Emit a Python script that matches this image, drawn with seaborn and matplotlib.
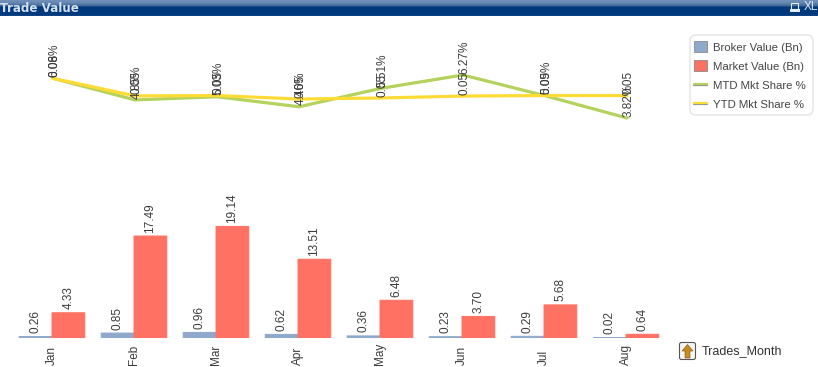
import matplotlib
matplotlib.use('Agg')
import matplotlib.pyplot as plt
import matplotlib.patheffects as pe
from matplotlib.lines import Line2D
from matplotlib.patches import Patch, Rectangle, FancyBboxPatch, Polygon
import numpy as np
import pandas as pd
import seaborn as sns

#values
months = ['Jan', 'Feb', 'Mar', 'Apr', 'May', 'Jun', 'Jul', 'Aug']
broker_value = [0.26, 0.85, 0.96, 0.62, 0.36, 0.23, 0.29, 0.02]
market_value = [4.33, 17.49, 19.14, 13.51, 6.48, 3.70, 5.68, 0.64]
mtd_share = [6.08, 4.85, 5.03, 4.46, 5.51, 6.27, 5.09, 3.82]
ytd_share = [0.0608, 0.0508, 0.0510, 0.0490, 0.0496, 0.0507, 0.0510, 0.0510]

BROKER = '#8fa9cc'
MARKET = '#ff7163'
MTD = '#b4d25c'
YTD = '#ffdc35'
TEXT = '#3c3c3c'

W, H = 818, 367

sns.set_style('white')
plt.rcParams['font.family'] = ['Liberation Sans', 'DejaVu Sans']

fig = plt.figure(figsize=(W / 100, H / 100), dpi=100)

#turns pixel box from the reference into figure coords
def box(left, top, right, bottom):
    return [left / W, 1 - bottom / H, (right - left) / W, (bottom - top) / H]

#bars
bars = pd.DataFrame({
    'Trades_Month': months * 2,
    'Value': broker_value + market_value,
    'Series': ['Broker Value (Bn)'] * 8 + ['Market Value (Bn)'] * 8,
})
ax = fig.add_axes(box(11, 190, 667, 338))
sns.barplot(data=bars, x='Trades_Month', y='Value', hue='Series', ax=ax,
            palette=[BROKER, MARKET], width=0.80, gap=0, saturation=1, legend=False,
            edgecolor=None, linewidth=0)
#thin bars vanish otherwise
for c, col in zip(ax.containers, [BROKER, MARKET]):
    for b in c:
        b.set_edgecolor(col)
        b.set_linewidth(0.7)
        b.set_snap(False)
    ax.bar_label(c, fmt='%.2f', rotation=90, padding=2.5, fontsize=8.5, color=TEXT)
ax.set_xlim(-0.5, 7.5)
ax.set_ylim(0, 148 / 5.83)
ax.set_xlabel('')
ax.set_ylabel('')
ax.set_yticks([])
ax.tick_params(axis='x', length=0, pad=19.5, labelsize=8.5, labelcolor=TEXT, labelrotation=90)
for t in ax.get_xticklabels():
    t.set_verticalalignment('bottom')
sns.despine(ax=ax, left=True, bottom=True)
ax.patch.set_alpha(0)

#lines, YTD is stored as a fraction so it goes on the same scale x100
lx = fig.add_axes(box(12, 30, 668, 130))
sns.lineplot(x=months, y=mtd_share, sort=False, color=MTD, lw=2.3, ax=lx)
sns.lineplot(x=months, y=[v * 100 for v in ytd_share], sort=False, color=YTD, lw=2.3, ax=lx)
for i in range(len(months)):
    lx.annotate(f'{mtd_share[i]:.2f}%', (i, mtd_share[i]), xytext=(1, 1), textcoords='offset points',
                rotation=90, ha='center', va='bottom', fontsize=8.5, color=TEXT)
    lx.annotate(f'{ytd_share[i]:.2f}', (i, ytd_share[i] * 100), xytext=(1, 1), textcoords='offset points',
                rotation=90, ha='center', va='bottom', fontsize=8.5, color=TEXT)
lx.set_xlim(-0.5, 7.5)
lx.set_ylim(3.136, 8.834)
lx.set_xticks([])
lx.set_yticks([])
lx.axis('off')

#overlay in reference pixels, for header and the small bits around the chart
over = fig.add_axes([0, 0, 1, 1], zorder=-1)
over.axis('off')
top_over = fig.add_axes([0, 0, 1, 1], zorder=5)
top_over.set_xlim(0, W)
top_over.set_ylim(H, 0)
top_over.axis('off')

#header bar gradient
shade = np.array([[0.44, 0.56, 0.72], [0.42, 0.55, 0.71], [0.40, 0.53, 0.70], [0.36, 0.50, 0.67],
                  [0.32, 0.46, 0.64], [0.27, 0.42, 0.61], [0.10, 0.29, 0.53], [0.0, 0.23, 0.49],
                  [0.0, 0.23, 0.49], [0.0, 0.23, 0.49], [0.0, 0.23, 0.49], [0.0, 0.23, 0.49],
                  [0.0, 0.23, 0.49], [0.0, 0.23, 0.49], [0.0, 0.23, 0.49], [0.05, 0.27, 0.52]])
over.imshow(shade[:, None, :], extent=(0, W, 16, 0), aspect='auto', interpolation='bilinear')
over.set_xlim(0, W)
over.set_ylim(H, 0)
over.text(0, 8.5, 'Trade Value', color='#d3dfec', fontsize=8.6, fontweight='bold', va='center', ha='left',
          family='DejaVu Sans')
over.text(804, 7, 'XL', color='#dfe8f2', fontsize=8.5, va='center', ha='left')
over.add_patch(Rectangle((791, 2.5), 7, 6.5, fc='none', ec='#e6edf5', lw=0.8))
over.add_patch(Rectangle((790, 9), 9.5, 2.5, fc='#e6edf5', ec='none'))

#legend, frame drawn by hand because the reference has uneven padding
top_over.add_patch(FancyBboxPatch((690, 35), 123, 80, boxstyle='round,pad=0,rounding_size=6',
                                  fc='white', ec='#e2e2e2', lw=0.9, zorder=1))
handles = [
    Patch(facecolor=BROKER, edgecolor='#8a8a8a', lw=0.6),
    Patch(facecolor=MARKET, edgecolor='#8a8a8a', lw=0.6),
    Line2D([], [], color=MTD, lw=1.6, path_effects=[pe.SimpleLineShadow(offset=(0, -1), shadow_color='#777777', alpha=0.8), pe.Normal()]),
    Line2D([], [], color=YTD, lw=1.6, path_effects=[pe.SimpleLineShadow(offset=(0, -1), shadow_color='#777777', alpha=0.8), pe.Normal()]),
]
labels = ['Broker Value (Bn)', 'Market Value (Bn)', 'MTD Mkt Share %', 'YTD Mkt Share %']
leg = top_over.legend(handles, labels, loc='upper left', bbox_to_anchor=(694 / W, 1 - 41 / H),
                      bbox_transform=fig.transFigure, borderaxespad=0, frameon=False,
                      fontsize=8.2, labelcolor='#444444', handlelength=1.15, handleheight=1.15,
                      handletextpad=0.53, labelspacing=0.66, borderpad=0)
leg.set_zorder(3)

#Trades_Month field with its little button
top_over.add_patch(FancyBboxPatch((680, 343), 15, 16, boxstyle='round,pad=0.5,rounding_size=2',
                                  fc='#f6f6f6', ec='#555555', lw=0.8))
top_over.add_patch(Polygon([(687.5, 344.5), (693, 351), (690, 351), (690, 358), (685, 358), (685, 351), (682, 351)],
                           closed=True, fc='#c98a1e', ec='#7a5210', lw=0.4))
top_over.text(702, 351, 'Trades_Month', fontsize=9, color='#333333', va='center', ha='left')

fig.savefig('out.png', dpi=100)
